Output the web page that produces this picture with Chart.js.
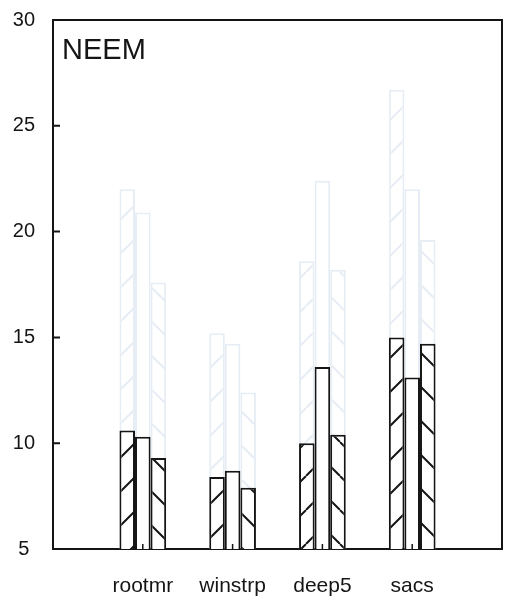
<!DOCTYPE html>
<html><head><meta charset="utf-8">
<script src="https://cdn.jsdelivr.net/npm/chart.js@4.4.0/dist/chart.umd.min.js"></script>
<style>html,body{margin:0;padding:0;background:#fff}#wrap{width:511px;height:602px;position:relative}</style>
</head><body><div id="wrap"><canvas id="c"></canvas></div>
<script>
// ---- data ----
const categories = ['', 'rootmr', 'winstrp', 'deep5', 'sacs', ''];
const seriesA = [null, 10.6, 8.4, 10.0, 15.0, null];
const seriesB = [null, 10.3, 8.7, 13.6, 13.1, null];
const seriesC = [null, 9.3, 7.9, 10.4, 14.7, null];
const faintA = [null, 22.0, 15.2, 18.6, 26.7, null];
const faintB = [null, 20.9, 14.7, 22.4, 22.0, null];
const faintC = [null, 17.6, 12.4, 18.2, 19.6, null];
const yMin = 5, yMax = 30, yStep = 5;
const panelLabel = 'NEEM';

const canvas = document.getElementById('c');
const ctx = canvas.getContext('2d');
const INK = '#151515';
const FAINT = '#e6edf4';

function hatch(dir, color) {
  const s = 34;
  const c = document.createElement('canvas'); c.width = s; c.height = s;
  const g = c.getContext('2d');
  g.fillStyle = '#fff'; g.fillRect(0, 0, s, s);
  if (dir !== 0) {
    g.strokeStyle = color; g.lineWidth = 2; g.beginPath();
    for (const o of [-s, 0, s]) {
      if (dir > 0) { g.moveTo(o, s); g.lineTo(o + s, 0); }
      else { g.moveTo(o, 0); g.lineTo(o + s, s); }
    }
    g.stroke();
  }
  return ctx.createPattern(c, 'repeat');
}

function ds(data, dir, color, stack, order) {
  return {
    data, stack, order,
    backgroundColor: hatch(dir, color),
    borderColor: color, borderWidth: 2, borderSkipped: 'bottom',
    categoryPercentage: 0.52, barPercentage: 1.0
  };
}

const boxPlugin = {
  id: 'box',
  afterDraw(chart) {
    const a = chart.chartArea, g = chart.ctx;
    const xs = chart.scales.x, ys = chart.scales.y;
    g.save();
    g.strokeStyle = INK; g.lineWidth = 2;
    g.beginPath();
    g.moveTo(a.left, a.top); g.lineTo(a.right, a.top); g.lineTo(a.right, a.bottom);
    // inward tick marks on the value axis
    ys.ticks.forEach((t, i) => {
      const py = ys.getPixelForTick(i);
      g.moveTo(a.left, py); g.lineTo(a.left + 7, py);
    });
    g.stroke();
    // inward tick marks at category centres
    g.lineWidth = 1.5; g.beginPath();
    categories.forEach((c, i) => {
      if (!c) return;
      const px = xs.getPixelForTick(i);
      g.moveTo(px, a.bottom); g.lineTo(px, a.bottom - 5);
    });
    g.stroke();
    g.fillStyle = INK;
    g.font = '29px "Liberation Sans", Arial, sans-serif';
    g.textBaseline = 'top';
    g.fillText(panelLabel, a.left + 9, a.top + 16);
    g.restore();
  }
};

new Chart(ctx, {
  type: 'bar',
  data: {
    labels: categories,
    datasets: [
      ds(seriesA, 1, INK, 'a', 0),
      ds(seriesB, 0, INK, 'b', 0),
      ds(seriesC, -1, INK, 'c', 0),
      ds(faintA, 1, FAINT, 'a', 1),
      ds(faintB, 0, FAINT, 'b', 1),
      ds(faintC, -1, FAINT, 'c', 1)
    ]
  },
  options: {
    responsive: true, maintainAspectRatio: false, animation: false,
    layout: { padding: { top: 20, right: 9, left: 0, bottom: 0 } },
    plugins: { legend: { display: false }, tooltip: { enabled: false }, title: { display: false } },
    scales: {
      x: {
        offset: false,
        grid: { offset: false, drawOnChartArea: false, tickLength: 25, tickColor: 'rgba(0,0,0,0)' },
        border: { display: true, color: INK, width: 2 },
        ticks: { color: INK, padding: 0, autoSkip: false, maxRotation: 0,
          font: { family: '"Liberation Sans", Arial, sans-serif', size: 21 } },
        afterFit(s) { s.height = 53; }
      },
      y: {
        min: yMin, max: yMax, stacked: false,
        grid: { drawOnChartArea: false, tickLength: 18, tickColor: 'rgba(0,0,0,0)' },
        border: { display: true, color: INK, width: 2 },
        ticks: { stepSize: yStep, color: INK, padding: 0, crossAlign: 'center',
          font: { family: '"Liberation Sans", Arial, sans-serif', size: 20 } },
        afterFit(s) { s.width = 53; }
      }
    }
  },
  plugins: [boxPlugin]
});
</script></body></html>
